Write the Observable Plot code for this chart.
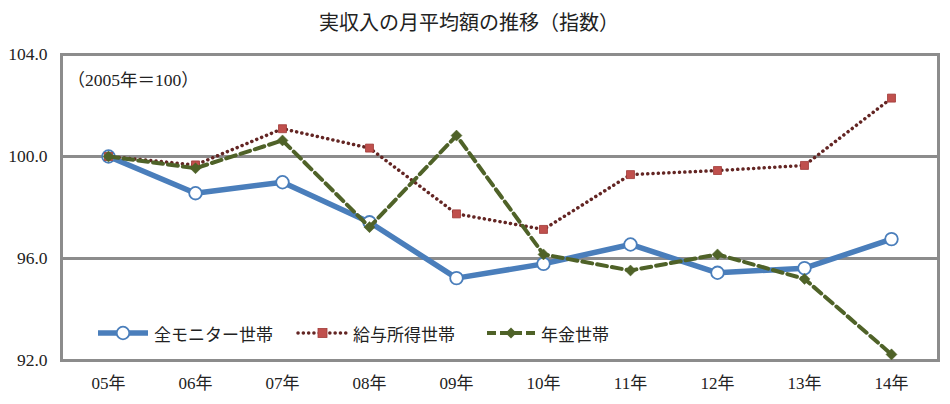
<!DOCTYPE html>
<html><head><meta charset="utf-8">
<script src="https://cdn.jsdelivr.net/npm/d3@7"></script>
<script src="https://cdn.jsdelivr.net/npm/@observablehq/plot@0.6"></script>
<style>
body{margin:0;background:#fff;}
#wrap{position:relative;width:950px;height:404px;overflow:hidden;}
#title{position:absolute;left:0;top:8px;width:938px;text-align:center;font-family:"Noto Sans CJK JP","Noto Sans",sans-serif;font-size:20px;line-height:28px;color:#222;}
#legend{position:absolute;left:0;top:0;pointer-events:none;}
svg text{font-family:"Liberation Serif","Noto Sans CJK JP",serif;}
</style>
</head><body>
<div id="wrap"><div id="title">実収入の月平均額の推移（指数）</div></div>
<script>
const years = ["05年","06年","07年","08年","09年","10年","11年","12年","13年","14年"];
const seriesNames = ["全モニター世帯","給与所得世帯","年金世帯"];
const allMonitor = [100, 98.56, 98.99, 97.42, 95.23, 95.79, 96.55, 95.44, 95.62, 96.76];
const salary     = [100, 99.67, 101.09, 100.33, 97.75, 97.14, 99.29, 99.45, 99.65, 102.29];
const pension    = [100, 99.54, 100.63, 97.23, 100.82, 96.16, 95.53, 96.16, 95.20, 92.24];
const yTicks = [92, 96, 100, 104];
const gridValues = [96, 100];
const note = "（2005年＝100）";

const toRows = (vals, s) => vals.map((v, i) => ({year: years[i], value: v, series: s}));
const rowsA = toRows(allMonitor, seriesNames[0]);
const rowsS = toRows(salary, seriesNames[1]);
const rowsP = toRows(pension, seriesNames[2]);

const BLUE = "#4a7ebb", RED_LINE = "#632523", RED_FILL = "#c0504d", GREEN = "#4f6228", GRID = "#8c8c8c";
const diamond = {draw(ctx, size){ const r = Math.sqrt(size/2); ctx.moveTo(0,-r); ctx.lineTo(r,0); ctx.lineTo(0,r); ctx.lineTo(-r,0); ctx.closePath(); }};
const serif = '"Liberation Serif","Noto Sans CJK JP",serif';

const chart = Plot.plot({
  width: 950, height: 404,
  marginLeft: 61, marginRight: 12, marginTop: 54, marginBottom: 44,
  style: {fontFamily: serif, fontSize: "17px", color: "#222", background: "#fff"},
  x: {type: "point", domain: years, padding: 0.5},
  y: {domain: [92, 104]},
  marks: [
    Plot.ruleY(gridValues, {stroke: GRID, strokeWidth: 3}),
    Plot.frame({stroke: GRID, strokeWidth: 3}),
    Plot.axisY({ticks: yTicks, tickSize: 0, tickPadding: 14, tickFormat: d => d.toFixed(1), fontSize: 17.5, fontFamily: serif, label: null}),
    Plot.axisX({tickSize: 0, tickPadding: 16, fontSize: 17, fontFamily: serif, label: null}),
    Plot.text([note], {frameAnchor: "top-left", dx: 6, dy: 19, textAnchor: "start", fontSize: 17.5, fontFamily: serif, fill: "#222"}),
    Plot.line(rowsA, {x: "year", y: "value", stroke: BLUE, strokeWidth: 5.5, strokeLinejoin: "round"}),
    Plot.dot(rowsA, {x: "year", y: "value", r: 6.3, fill: "#fff", stroke: BLUE, strokeWidth: 1.8}),
    Plot.line(rowsS, {x: "year", y: "value", stroke: RED_LINE, strokeWidth: 3.5, strokeDasharray: "0.1 5.2", strokeLinecap: "round"}),
    Plot.dot(rowsS, {x: "year", y: "value", symbol: "square", r: 4.5, fill: RED_FILL, stroke: "#a03a37", strokeWidth: 0.8}),
    Plot.line(rowsP, {x: "year", y: "value", stroke: GREEN, strokeWidth: 4, strokeDasharray: "10 5"}),
    Plot.dot(rowsP, {x: "year", y: "value", symbol: diamond, r: 4.4, fill: GREEN, stroke: GREEN, strokeWidth: 0.5})
  ]
});
document.getElementById("wrap").appendChild(chart);

// legend overlay
const lg = d3.select("#wrap").append("svg").attr("id", "legend").attr("width", 950).attr("height", 404);
const ly = 333;
const items = [
  {name: seriesNames[0], x0: 98, x1: 148, tx: 154},
  {name: seriesNames[1], x0: 298, x1: 347, tx: 353},
  {name: seriesNames[2], x0: 487, x1: 535, tx: 541}
];
lg.append("line").attr("x1", items[0].x0).attr("x2", items[0].x1).attr("y1", ly).attr("y2", ly).attr("stroke", BLUE).attr("stroke-width", 5.5);
lg.append("circle").attr("cx", (items[0].x0+items[0].x1)/2).attr("cy", ly).attr("r", 6.3).attr("fill", "#fff").attr("stroke", BLUE).attr("stroke-width", 1.8);
lg.append("line").attr("x1", items[1].x0).attr("x2", items[1].x1).attr("y1", ly).attr("y2", ly).attr("stroke", RED_LINE).attr("stroke-width", 3.5).attr("stroke-dasharray", "0.1 5.2").attr("stroke-linecap", "round");
lg.append("rect").attr("x", (items[1].x0+items[1].x1)/2 - 4.5).attr("y", ly - 4.5).attr("width", 9).attr("height", 9).attr("fill", RED_FILL).attr("stroke", "#a03a37").attr("stroke-width", 0.8);
lg.append("line").attr("x1", items[2].x0).attr("x2", items[2].x1).attr("y1", ly).attr("y2", ly).attr("stroke", GREEN).attr("stroke-width", 4).attr("stroke-dasharray", "9 4");
const gx = (items[2].x0+items[2].x1)/2;
lg.append("path").attr("d", `M${gx},${ly-5.5}L${gx+5.5},${ly}L${gx},${ly+5.5}L${gx-5.5},${ly}Z`).attr("fill", GREEN);
lg.selectAll("text.lt").data(items).join("text").attr("class", "lt")
  .attr("x", d => d.tx).attr("y", ly).attr("dominant-baseline", "central")
  .attr("font-size", 17).attr("fill", "#222")
  .style("font-family", '"Noto Sans CJK JP","Noto Sans",sans-serif')
  .text(d => d.name);
</script>
</body></html>
